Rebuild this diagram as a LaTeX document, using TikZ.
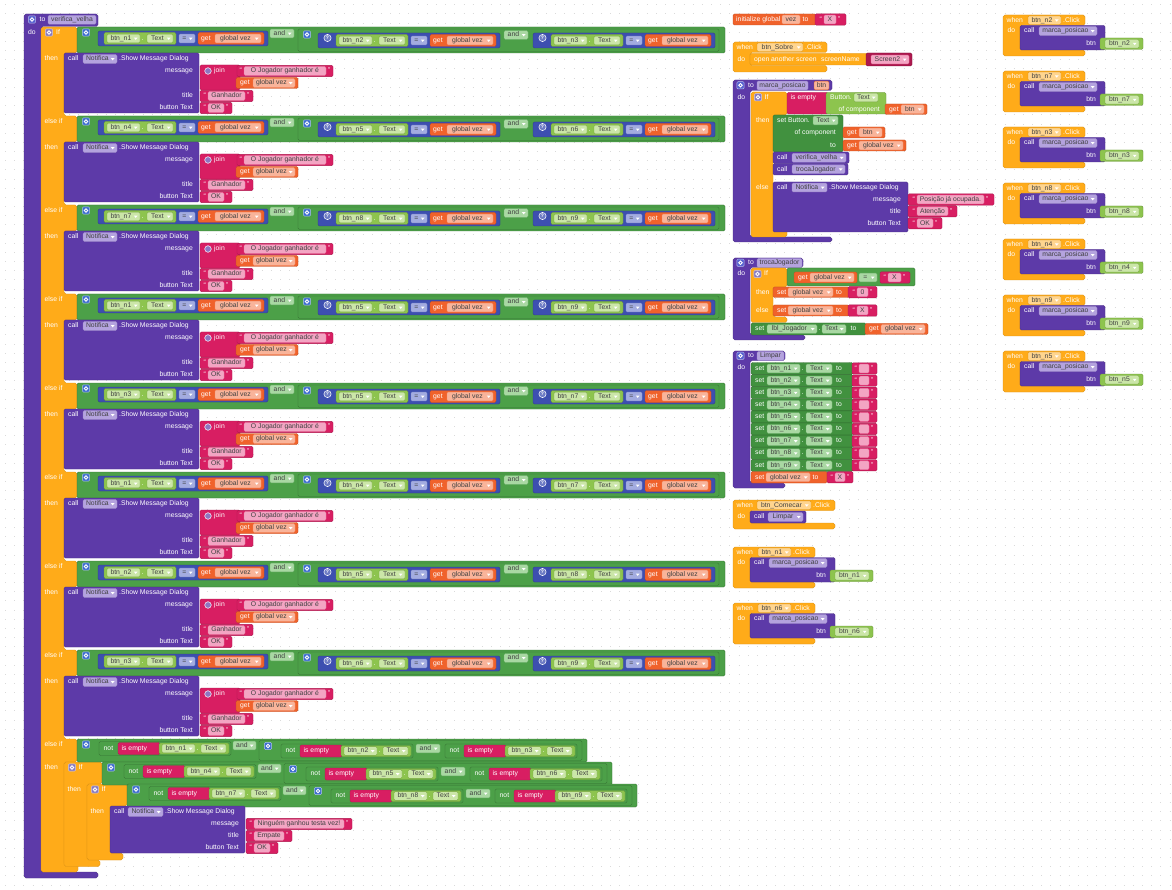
\documentclass[tikz,border=0pt]{standalone}
\usepackage{fontspec}
\setmainfont{Liberation Sans}
\definecolor{cPur}{HTML}{5D3AA8}
\definecolor{cPurF}{HTML}{B4A3DE}
\definecolor{cOra}{HTML}{FFAB19}
\definecolor{cOraF}{HTML}{FFD58F}
\definecolor{cGrn}{HTML}{4CA048}
\definecolor{cGrnF}{HTML}{A9D8A3}
\definecolor{cSet}{HTML}{41913F}
\definecolor{cLG}{HTML}{8DC44E}
\definecolor{cLGF}{HTML}{CBE6A8}
\definecolor{cBlu}{HTML}{3D4FB0}
\definecolor{cBluF}{HTML}{A3ACE0}
\definecolor{cVar}{HTML}{F0622B}
\definecolor{cVarF}{HTML}{F9B49A}
\definecolor{cTxt}{HTML}{D81E62}
\definecolor{cTxtF}{HTML}{F3A5C3}
\definecolor{cDot}{HTML}{DADADA}
\definecolor{gProc}{HTML}{5661D0}
\definecolor{gIf}{HTML}{8A7CC0}
\definecolor{gAnd}{HTML}{3E6ED0}
\tikzset{
  lab/.style={font=\fontsize{6.8}{8}\selectfont, text=white, inner sep=0pt, text height=4.9pt, text depth=1.4pt},
  ftx/.style={font=\fontsize{6.8}{8}\selectfont, text=black!75, inner sep=0pt, text height=4.9pt, text depth=1.4pt},
  bPur/.style={fill=cPur, draw=cPur!80!black},
  bOra/.style={fill=cOra, draw=cOra!85!black},
  bGrn/.style={fill=cGrn, draw=cGrn!70!black},
  bSet/.style={fill=cSet, draw=cSet!75!black},
  bLG/.style={fill=cLG, draw=cLG!75!black},
  bBlu/.style={fill=cBlu, draw=cBlu!75!black},
  bVar/.style={fill=cVar, draw=cVar!80!black},
  bTxt/.style={fill=cTxt, draw=cTxt!80!black},
  bScr/.style={fill=cTxt!80!black, draw=cTxt!60!black},
  fPur/.style={fill=cPurF, draw=cPur!60!white},
  fOra/.style={fill=cOraF, draw=cOra!85!black},
  fGrn/.style={fill=cGrnF, draw=cGrn!80!white},
  fLG/.style={fill=cLGF, draw=cLG!85!black},
  fBlu/.style={fill=cBluF, draw=cBlu!60!white},
  fVar/.style={fill=cVarF, draw=cVar!70!white},
  fTxt/.style={fill=cTxtF, draw=cTxt!60!white},
  fPar/.style={fill=cVarF, draw=cVar!85!black},
  cont/.style={rounded corners=1.8pt, line width=0.4pt}
}
% generic pieces
\newcommand\xBlk[5]{\filldraw[#5,rounded corners=1.3pt,line width=0.4pt] (#1,#2) rectangle (#3,#4);}
\newcommand\xLab[3]{\node[lab,anchor=west] at (#1,#2) {#3};}
\newcommand\xLabR[3]{\node[lab,anchor=east] at (#1,#2) {#3};}
\newcommand\xFld[5]{\filldraw[#5,rounded corners=1.3pt,line width=0.35pt] (#1,#3-4.4) rectangle (#2,#3+4.4); \node[ftx] at ({(#1+#2)/2},#3) {#4};}
\newcommand\xDrp[5]{\filldraw[#5,rounded corners=1.3pt,line width=0.35pt] (#1,#3-4.4) rectangle (#2,#3+4.4); \node[ftx] at ({(#1+#2)/2-2.6},#3) {#4}; \fill[white] (#2-6.2,#3-0.9) -- (#2-2.4,#3-0.9) -- (#2-4.3,#3+1.4) -- cycle;}
\newcommand\xGear[4]{\filldraw[fill=#3,draw=white!60!#3,line width=0.4pt,rounded corners=1pt] (#1-3.6,#2-3.6) rectangle (#1+3.6,#2+3.6); \draw[#4,line width=0.9pt] (#1,#2) circle (1.7);}
\newcommand\xStr[6]{\filldraw[bTxt,rounded corners=1.3pt,line width=0.4pt] (#1,#3-5.6) rectangle (#2,#3+5.6);
  \node[lab] at (#4-3.3,#3) {“}; \node[lab] at (#5+3.3,#3) {”};
  \xFld{#4}{#5}{#3}{#6}{fTxt}}
% btn_nX.Text = get global vez
\newcommand\xCmp[4]{%
  \xBlk{#1}{#2-7.5}{#1+170+#4}{#2+7.5}{bBlu}
  \ifnum#4>0 \filldraw[fill=cBlu!75!white,draw=white,line width=0.5pt] (#1+9.5,#2-2.5) circle (3.6);
    \node[lab,font=\fontsize{5}{6}\selectfont\bfseries,text height=3.5pt,text depth=0pt] at (#1+9.5,#2-2.5) {?};\fi
  \xBlk{#1+6+#4}{#2-6}{#1+78+#4}{#2+6}{bLG}
  \xDrp{#1+9+#4}{#1+42+#4}{#2}{btn\_n#3}{fLG}
  \xLab{#1+43.5+#4}{#2}{.}
  \xDrp{#1+49+#4}{#1+75+#4}{#2}{Text}{fLG}
  \xDrp{#1+81+#4}{#1+97+#4}{#2}{=}{fBlu}
  \xBlk{#1+100+#4}{#2-6}{#1+166+#4}{#2+6}{bVar}
  \xLab{#1+103+#4}{#2}{get}
  \xDrp{#1+117+#4}{#1+163+#4}{#2}{global vez}{fVar}}
% three-in-a-row test
\newcommand\xRow[4]{%
  \xBlk{77}{#1}{725}{#1+26}{bGrn}
  \xGear{86}{#1+5.5}{gAnd}{white}
  \xCmp{98}{#1+11.5}{#2}{0}
  \xDrp{270}{294}{#1+6.5}{and}{fGrn}
  \xBlk{298}{#1+2}{719}{#1+24.5}{bGrn}
  \xGear{307}{#1+7.5}{gAnd}{white}
  \xCmp{318}{#1+13.5}{#3}{12}
  \xDrp{504}{528}{#1+8}{and}{fGrn}
  \xCmp{533}{#1+13.5}{#4}{12}}
% not is empty btn_nX.Text
\newcommand\xNotOp[3]{%
  \xBlk{#1}{#2-7}{#1+132}{#2+7}{bGrn}
  \xLab{#1+4.5}{#2}{not}
  \xBlk{#1+19}{#2-6}{#1+61}{#2+6}{bTxt}
  \xLab{#1+22.5}{#2}{is empty}
  \xBlk{#1+60}{#2-5.5}{#1+130}{#2+5.5}{bLG}
  \xDrp{#1+63}{#1+96}{#2}{btn\_n#3}{fLG}
  \xLab{#1+97.5}{#2}{.}
  \xDrp{#1+102}{#1+127}{#2}{Text}{fLG}}
\newcommand\xNotRow[5]{%
  \xBlk{#1}{#2}{#1+510}{#2+23}{bGrn}
  \xGear{#1+9}{#2+5.5}{gAnd}{white}
  \xNotOp{#1+22}{#2+9.5}{#3}
  \xDrp{#1+156}{#1+179}{#2+6.5}{and}{fGrn}
  \xBlk{#1+182}{#2+1.5}{#1+505}{#2+21.5}{bGrn}
  \xGear{#1+191}{#2+7}{gAnd}{white}
  \xNotOp{#1+204}{#2+12}{#4}
  \xDrp{#1+339}{#1+363}{#2+9.5}{and}{fGrn}
  \xNotOp{#1+368}{#2+12}{#5}}
% winner message dialog
\newcommand\xDlgJ[1]{%
  \xBlk{64}{#1}{199}{#1+60}{bPur}
  \xLab{68}{#1+6}{call}
  \xDrp{83}{117}{#1+6}{Notifica}{fPur}
  \xLab{119}{#1+6}{.Show Message Dialog}
  \xLabR{193}{#1+18}{message}
  \xLabR{193}{#1+43}{title}
  \xLabR{193}{#1+55}{button Text}
  \xBlk{200}{#1+12}{240}{#1+37}{bTxt}
  \filldraw[fill=cPur!70!white,draw=white,line width=0.5pt] (208,#1+18) circle (3.3);
  \xLab{214}{#1+18}{join}
  \xStr{237}{333}{#1+18}{244}{326}{O Jogador ganhador é}
  \xBlk{236}{#1+24.5}{298}{#1+35.5}{bVar}
  \xLab{240}{#1+30}{get}
  \xDrp{253}{295}{#1+30}{global vez}{fVar}
  \xStr{200}{253}{#1+43}{208}{245}{Ganhador}
  \xStr{200}{232}{#1+55}{208}{224}{OK}}
% when btn_nX.Click do call marca_posicao
\newcommand\xEvt[3]{%
  \filldraw[fill=cOra,draw=cOra!85!black,cont] (#1,#2) -- (#1+82,#2) -- (#1+82,#2+10.5) -- (#1+17,#2+10.5) -- (#1+17,#2+35) -- (#1+82,#2+35) -- (#1+82,#2+41) -- (#1,#2+41) -- cycle;
  \xLab{#1+3.5}{#2+5.3}{when}
  \xDrp{#1+25}{#1+58}{#2+5.3}{#3}{fOra}
  \xLab{#1+60}{#2+5.3}{.Click}
  \xLab{#1+4.5}{#2+16}{do}
  \xBlk{#1+17}{#2+10.5}{#1+102}{#2+35}{bPur}
  \xLab{#1+21}{#2+16}{call}
  \xDrp{#1+36}{#1+94}{#2+16}{marca\_posicao}{fPur}
  \xLabR{#1+93}{#2+29}{btn}
  \xBlk{#1+97}{#2+23}{#1+140}{#2+34.5}{bLG}
  \xDrp{#1+102}{#1+136}{#2+28.7}{#3}{fLG}}

\begin{document}
\begin{tikzpicture}[x=1pt,y=-1pt]
\useasboundingbox (0,0) rectangle (1172,890);
\fill[white] (0,0) rectangle (1172,890);
% workspace dots
\foreach \j in {0,...,96}
  \draw[cDot,line width=1pt,dash pattern=on 1pt off 8.17pt] (5,4.8+9.17*\j) -- (1172,4.8+9.17*\j);

% ===== procedure verifica_velha =====
\filldraw[fill=cPur,draw=cPur!80!black,cont] (24,14) -- (98,14) -- (98,26.5) -- (41,26.5) -- (41,872) -- (98,872) -- (98,878) -- (24,878) -- cycle;
\xGear{32}{19.5}{gProc}{white}
\xLab{39.5}{19.8}{to}
\xFld{48}{96}{19.8}{verifica\_velha}{fPur}
\xLab{28}{32.5}{do}
% main if / else if chain
\filldraw[fill=cOra,draw=cOra!85!black,cont] (41,27) -- (77,27) -- (77,53) -- (64,53)
  -- (64,116) -- (77,116) -- (77,142) -- (64,142)
  -- (64,205) -- (77,205) -- (77,231) -- (64,231)
  -- (64,294) -- (77,294) -- (77,320) -- (64,320)
  -- (64,383) -- (77,383) -- (77,409) -- (64,409)
  -- (64,472) -- (77,472) -- (77,498) -- (64,498)
  -- (64,561) -- (77,561) -- (77,587) -- (64,587)
  -- (64,650) -- (77,650) -- (77,676) -- (64,676)
  -- (64,739) -- (77,739) -- (77,762) -- (64,762)
  -- (64,865) -- (78,865) -- (78,872) -- (41,872) -- cycle;
\xGear{49}{32.5}{gIf}{white}
\xLab{56}{32.5}{If}
% nested ifs of the draw case
\filldraw[fill=cOra,draw=cOra!85!black,cont] (64,762) -- (102,762) -- (102,784) -- (87,784) -- (87,860) -- (100,860) -- (100,866.5) -- (64,866.5) -- cycle;
\filldraw[fill=cOra,draw=cOra!85!black,cont] (87,784) -- (127,784) -- (127,806) -- (110,806) -- (110,853) -- (123,853) -- (123,860) -- (87,860) -- cycle;

\foreach \kk/\pa/\pb/\pc in {0/1/2/3, 1/4/5/6, 2/7/8/9, 3/1/5/9, 4/3/5/7, 5/1/4/7, 6/2/5/8, 7/3/6/9} {
  \pgfmathsetmacro\rowT{27+89*\kk}
  \ifnum\kk>0 \xLab{44.5}{\rowT+5.5}{else if}\fi
  \xLab{44.5}{\rowT+32}{then}
  \xRow{\rowT}{\pa}{\pb}{\pc}
  \xDlgJ{\rowT+26}
}

% draw case
\xLab{44.5}{744.5}{else if}
\xLab{44.5}{767.5}{then}
\xNotRow{77}{739}{1}{2}{3}
\xGear{72}{767.5}{gIf}{white}
\xLab{78.5}{767.5}{If}
\xLab{67.5}{789.5}{then}
\xNotRow{102}{762}{4}{5}{6}
\xGear{95}{789.5}{gIf}{white}
\xLab{101.5}{789.5}{If}
\xLab{90.5}{812}{then}
\xNotRow{127}{784}{7}{8}{9}
\xBlk{110}{806}{245}{853}{bPur}
\xLab{114}{812}{call}
\xDrp{128}{163}{812}{Notifica}{fPur}
\xLab{165}{812}{.Show Message Dialog}
\xLabR{239}{824}{message}
\xLabR{239}{836}{title}
\xLabR{239}{848}{button Text}
\xStr{246}{352}{824}{254}{344}{Ninguém ganhou testa vez!}
\xStr{246}{292}{836}{254}{284}{Empate}
\xStr{246}{278}{848}{254}{270}{OK}

% ===== global variable =====
\xBlk{733}{14}{816}{25}{bVar}
\xLab{736}{19.5}{initialize global}
\xFld{782}{800}{19.5}{vez}{fVar}
\xLab{802.5}{19.5}{to}
\xStr{815}{846}{19.5}{824}{836}{X}

% ===== when btn_Sobre.Click =====
\filldraw[fill=cOra,draw=cOra!85!black,cont] (733,42) -- (827,42) -- (827,52.5) -- (750,52.5) -- (750,65.5) -- (827,65.5) -- (827,72) -- (733,72) -- cycle;
\xLab{736.5}{47.3}{when}
\xDrp{757}{803}{47.3}{btn\_Sobre}{fOra}
\xLab{805}{47.3}{.Click}
\xLab{737.5}{59.3}{do}
\xBlk{750}{53.5}{868}{65}{bOra}
\xLab{754}{59.3}{open another screen}
\xLab{821}{59.3}{screenName}
\xBlk{866}{53}{912}{66}{bScr}
\xDrp{871}{909}{59.5}{Screen2}{fTxt}

% ===== procedure marca_posicao =====
\filldraw[fill=cPur,draw=cPur!80!black,cont] (733,80) -- (832,80) -- (832,90.5) -- (750,90.5) -- (750,237) -- (832,237) -- (832,242) -- (733,242) -- cycle;
\xGear{740.5}{85.3}{gProc}{white}
\xLab{748}{85.5}{to}
\xFld{757}{808}{85.5}{marca\_posicao}{fPur}
\xFld{814}{829}{85.5}{btn}{fPar}
\xLab{737.5}{97.5}{do}
\filldraw[fill=cOra,draw=cOra!85!black,cont] (751,92) -- (787,92) -- (787,115) -- (773,115) -- (773,230) -- (787,230) -- (787,237) -- (751,237) -- cycle;
\xGear{758}{97.3}{gIf}{white}
\xLab{764.5}{97.5}{If}
\xBlk{787}{92.5}{828}{114}{bTxt}
\xLab{790.5}{97.5}{is empty}
\xBlk{826}{92.5}{886}{114}{bLG}
\xLab{830}{97.5}{Button.}
\xDrp{854}{878}{97.5}{Text}{fLG}
\xLabR{880}{109.3}{of component}
\xBlk{885}{104}{927}{114.5}{bVar}
\xLab{889}{109.3}{get}
\xDrp{901}{924}{109.3}{btn}{fVar}
\xLab{756}{120.5}{then}
\xBlk{773}{115}{843}{152}{bSet}
\xLab{777}{120.5}{set Button.}
\xDrp{813}{838}{120.5}{Text}{fGrn}
\xLabR{836}{132.5}{of component}
\xLabR{836}{145.5}{to}
\xBlk{843}{127}{885}{138}{bVar}
\xLab{847}{132.5}{get}
\xDrp{859}{882}{132.5}{btn}{fVar}
\xBlk{843}{140}{906}{151}{bVar}
\xLab{847}{145.5}{get}
\xDrp{859}{903}{145.5}{global vez}{fVar}
\xBlk{773}{152}{849}{163.5}{bPur}
\xLab{777}{157.8}{call}
\xDrp{792}{846}{157.8}{verifica\_velha}{fPur}
\xBlk{773}{163.5}{848}{175}{bPur}
\xLab{777}{169.3}{call}
\xDrp{792}{845}{169.3}{trocaJogador}{fPur}
\xLab{756}{187.5}{else}
\xBlk{773}{182}{908}{232}{bPur}
\xLab{777}{187.5}{call}
\xDrp{792}{827}{187.5}{Notifica}{fPur}
\xLab{829}{187.5}{.Show Message Dialog}
\xLabR{901}{199.5}{message}
\xLabR{901}{211.3}{title}
\xLabR{901}{223.3}{button Text}
\xStr{908}{994}{199.5}{917}{984}{Posição já ocupada.}
\xStr{908}{957}{211.3}{917}{948}{Atenção}
\xStr{908}{942}{223.3}{917}{933}{OK}

% ===== procedure trocaJogador =====
\filldraw[fill=cPur,draw=cPur!80!black,cont] (733,258) -- (803,258) -- (803,267.5) -- (750,267.5) -- (750,335) -- (805,335) -- (805,340) -- (733,340) -- cycle;
\xGear{740.5}{262.8}{gProc}{white}
\xLab{748}{263}{to}
\xFld{757}{802}{263}{trocaJogador}{fPur}
\xLab{737.5}{274}{do}
\filldraw[fill=cOra,draw=cOra!85!black,cont] (751,268) -- (787,268) -- (787,287) -- (773,287) -- (773,317) -- (787,317) -- (787,322.5) -- (751,322.5) -- cycle;
\xGear{757.5}{274}{gIf}{white}
\xLab{764}{274}{If}
\xBlk{787}{268}{915}{286}{bGrn}
\xBlk{794}{272}{857}{283}{bVar}
\xLab{798}{277.5}{get}
\xDrp{810}{854}{277.5}{global vez}{fVar}
\xDrp{859}{877}{277.5}{=}{fGrn}
\xStr{880}{910}{277.5}{888}{901}{X}
\xLab{756}{292.3}{then}
\xBlk{773}{287}{849}{297.5}{bVar}
\xLab{777}{292.3}{set}
\xDrp{788}{833}{292.3}{global vez}{fVar}
\xLab{836}{292.3}{to}
\xStr{848}{877}{292.3}{857}{868}{0}
\xLab{756}{310.5}{else}
\xBlk{773}{305}{849}{316}{bVar}
\xLab{777}{310.5}{set}
\xDrp{788}{833}{310.5}{global vez}{fVar}
\xLab{836}{310.5}{to}
\xStr{848}{877}{310.5}{857}{868}{X}
\xBlk{751}{323}{866}{335}{bSet}
\xLab{755}{329}{set}
\xDrp{767}{817}{329}{lbl\_Jogador}{fGrn}
\xLab{818.5}{329}{.}
\xDrp{822}{846}{329}{Text}{fGrn}
\xLab{850.5}{329}{to}
\xBlk{865}{323.5}{928}{334.5}{bVar}
\xLab{869}{329}{get}
\xDrp{881}{925}{329}{global vez}{fVar}

% ===== procedure Limpar =====
\filldraw[fill=cPur,draw=cPur!80!black,cont] (733,351) -- (785,351) -- (785,360.5) -- (750,360.5) -- (750,483) -- (785,483) -- (785,488) -- (733,488) -- cycle;
\xGear{740.5}{355.8}{gProc}{white}
\xLab{748}{356}{to}
\xFld{757}{784}{356}{Limpar}{fPur}
\xLab{737.5}{367.5}{do}
\foreach \ii in {1,...,9} {
  \pgfmathsetmacro\yy{362.5+12.1*(\ii-1)}
  \xBlk{751}{\yy}{853}{\yy+12}{bSet}
  \xLab{755}{\yy+6}{set}
  \xDrp{767}{800}{\yy+6}{btn\_n\ii}{fGrn}
  \xLab{801.5}{\yy+6}{.}
  \xDrp{806}{832}{\yy+6}{Text}{fGrn}
  \xLab{836}{\yy+6}{to}
  \xStr{852}{877}{\yy+6}{859}{869}{}
}
\xBlk{751}{471.5}{827}{483}{bVar}
\xLab{755}{477.3}{set}
\xDrp{766}{810}{477.3}{global vez}{fVar}
\xLab{812.5}{477.3}{to}
\xStr{827}{853}{477.3}{835}{845}{X}

% ===== when btn_Comecar.Click =====
\filldraw[fill=cOra,draw=cOra!85!black,cont] (733,500) -- (835,500) -- (835,510.5) -- (750,510.5) -- (750,523) -- (835,523) -- (835,529) -- (733,529) -- cycle;
\xLab{736.5}{505.3}{when}
\xDrp{757}{811}{505.3}{btn\_Comecar}{fOra}
\xLab{813}{505.3}{.Click}
\xLab{737.5}{517}{do}
\xBlk{750}{511}{806}{523}{bPur}
\xLab{754}{517}{call}
\xDrp{768}{803}{517}{Limpar}{fPur}

% ===== button click handlers =====
\xEvt{733}{547}{btn\_n1}
\xEvt{733}{603}{btn\_n6}
\xEvt{1003}{15}{btn\_n2}
\xEvt{1003}{71}{btn\_n7}
\xEvt{1003}{127}{btn\_n3}
\xEvt{1003}{183}{btn\_n8}
\xEvt{1003}{239}{btn\_n4}
\xEvt{1003}{295}{btn\_n9}
\xEvt{1003}{351}{btn\_n5}
\end{tikzpicture}
\end{document}
